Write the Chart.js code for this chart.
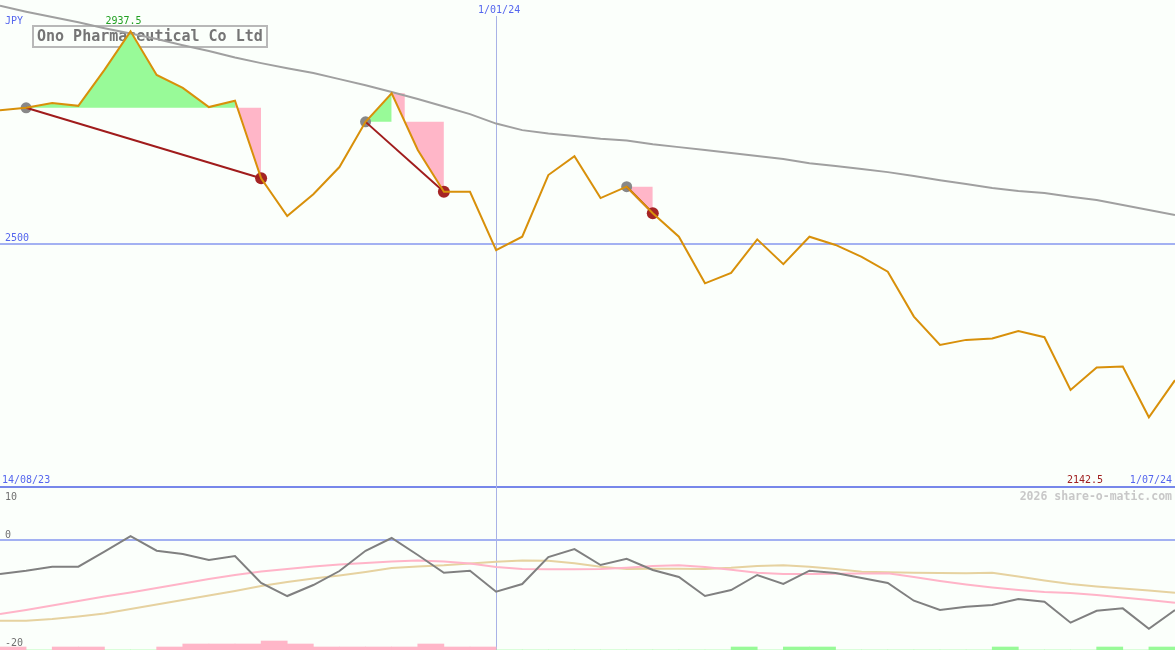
<!DOCTYPE html>
<html>
<head>
<meta charset="utf-8">
<script src="https://cdn.jsdelivr.net/npm/chart.js@4.4.0/dist/chart.umd.min.js"></script>
<style>
  html, body { margin: 0; padding: 0; background: #fbfffb; }
  #wrap { width: 1175px; height: 650px; position: relative; }
</style>
</head>
<body>
<div id="wrap"><canvas id="grafico"></canvas></div>
<script>
// semanas (fechamento semanal)
const semanas = ['21/08/23', '28/08/23', '4/09/23', '11/09/23', '18/09/23', '25/09/23', '2/10/23', '9/10/23',
    '16/10/23', '23/10/23', '30/10/23', '6/11/23', '13/11/23', '20/11/23', '27/11/23', '4/12/23', '11/12/23',
    '18/12/23', '25/12/23', '1/01/24', '8/01/24', '15/01/24', '22/01/24', '29/01/24', '5/02/24', '12/02/24',
    '19/02/24', '26/02/24', '4/03/24', '11/03/24', '18/03/24', '25/03/24', '1/04/24', '8/04/24', '15/04/24',
    '22/04/24', '29/04/24', '6/05/24', '13/05/24', '20/05/24', '27/05/24', '3/06/24', '10/06/24', '17/06/24',
    '24/06/24', '1/07/24'];

const fechamento = [2775, 2780, 2790, 2784, 2858, 2937.5, 2847.5, 2821, 2781.5, 2794.5, 2635, 2557, 2602, 2658,
    2751, 2810, 2693, 2607, 2607, 2487, 2514.5, 2641.5, 2680.5, 2594, 2617.5, 2563, 2514.5, 2418.5, 2440, 2509,
    2458, 2514.5, 2497.5, 2473, 2442.5, 2350, 2291.5, 2302, 2305, 2320, 2307.5, 2199, 2245, 2247, 2142.5, 2219];

const media = [2990, 2978, 2967, 2956, 2944, 2933, 2921.5, 2909, 2897, 2883.5, 2872, 2861.5, 2851.5, 2839,
    2826.5, 2812.5, 2798, 2782.5, 2767, 2747.5, 2734, 2727, 2722, 2716, 2712.5, 2705, 2699, 2693, 2687, 2680.5,
    2674.5, 2666, 2660, 2654, 2647.5, 2639.5, 2631, 2623, 2615, 2608.5, 2604.5, 2597, 2590, 2580, 2569.5, 2559];

// sinais: compra (ponto cinza), virada, venda (ponto vermelho)
const compras = [1, 14, 24];
const viradas = [9, 15, 24];
const vendas = [10, 17, 25];
// topo da area rosa (degrau) em cada sinal
const topoRosa = [null, null, null, null, null, null, null, null, null, 2780, 2780, null, null, null, null,
    2810, 2751, 2751, null, null, null, null, null, null, 2617.5, 2617.5, null, null, null, null, null, null,
    null, null, null, null, null, null, null, null, null, null, null, null, null, null];

// painel de baixo
const oscilador = [-6.42, -5.79, -5.04, -5.04, -2.21, 0.75, -2.02, -2.64, -3.77, -3.02, -8.11, -10.57, -8.49,
    -5.85, -2.02, 0.38, -2.83, -6.17, -5.79, -9.75, -8.30, -3.21, -1.70, -4.72, -3.53, -5.66, -6.98, -10.57,
    -9.43, -6.60, -8.30, -5.79, -6.23, -7.17, -8.11, -11.45, -13.21, -12.58, -12.26, -11.13, -11.64, -15.60,
    -13.34, -12.89, -16.74, -13.21];
const mediaRapida = [-13.96, -13.21, -12.36, -11.51, -10.66, -9.91, -9.06, -8.21, -7.36, -6.60, -5.94, -5.47,
    -5.00, -4.62, -4.34, -4.06, -3.87, -4.06, -4.43, -5.09, -5.47, -5.53, -5.51, -5.47, -5.21, -4.91, -4.77,
    -5.09, -5.60, -6.19, -6.42, -6.42, -6.38, -6.32, -6.28, -6.98, -7.74, -8.40, -8.96, -9.43, -9.81, -10.0,
    -10.38, -10.85, -11.32, -11.83];
const mediaLenta = [-15.23, -15.23, -14.91, -14.43, -13.87, -13.02, -12.17, -11.32, -10.47, -9.62, -8.68,
    -7.92, -7.26, -6.70, -6.04, -5.28, -5.00, -4.77, -4.43, -4.11, -3.87, -3.92, -4.38, -5.04, -5.45, -5.43,
    -5.42, -5.47, -5.25, -4.91, -4.77, -5.04, -5.47, -5.98, -6.09, -6.17, -6.23, -6.26, -6.19, -6.89, -7.64,
    -8.30, -8.77, -9.15, -9.53, -9.94];
// barras por intervalo entre semanas (negativo = rosa, positivo = verde)
const barras = [-1, 0, -1, -1, 0, 0, -1, -2, -2, -2, -3, -2, -1, -1, -1, -1, -2, -1, -1,
    0, 0, 0, 0, 0, 0, 0, 0, 0, 1, 0, 1, 1, 0, 0, 0, 0, 0, 0, 1, 0, 0, 0, 1, 0, 1];

const linhaRef = 2500;
const semanaMarcada = '1/01/24';

const FUNDO = '#fbfffb';
const VERDE = '#98fa98';
const ROSA = '#ffb6c8';
const AZUL = '#a3b1f2';
const AZUL_TEXTO = '#5566ee';
const MONO = '"DejaVu Sans Mono", monospace';

const soNoIntervalo = (arr, ini, fim) => arr.map((v, i) => (i >= ini && i <= fim ? v : null));

const datasets = [
    { label: 'Fechamento', data: fechamento, borderColor: '#d8900a', borderWidth: 2, pointRadius: 0, fill: false },
    { label: 'Media', data: media, borderColor: '#a0a0a0', borderWidth: 2, pointRadius: 0, fill: false },
    { label: 'Osc', data: oscilador, yAxisID: 'y2', borderColor: '#808080', borderWidth: 2, pointRadius: 0, fill: false },
    { label: 'OscRapida', data: mediaRapida, yAxisID: 'y2', borderColor: '#ffb4c8', borderWidth: 2, pointRadius: 0, fill: false },
    { label: 'OscLenta', data: mediaLenta, yAxisID: 'y2', borderColor: '#e6d2a0', borderWidth: 2, pointRadius: 0, fill: false }
];

// linhas vermelhas compra -> venda
compras.forEach((c, k) => {
    const v = vendas[k];
    datasets.push({
        data: fechamento.map((p, i) => (i === c || i === v ? p : null)),
        spanGaps: true, borderColor: '#a01c1c', borderWidth: 2, pointRadius: 0, fill: false
    });
});

// pontos de compra e venda
datasets.push({
    data: fechamento.map((p, i) => (compras.includes(i) ? p : null)),
    showLine: false, pointRadius: 5.5, pointBackgroundColor: '#888888', pointBorderWidth: 0, fill: false
});
datasets.push({
    data: fechamento.map((p, i) => (vendas.includes(i) ? p : null)),
    showLine: false, pointRadius: 6, pointBackgroundColor: '#a52424', pointBorderWidth: 0, fill: false
});

// areas verde e rosa
compras.forEach((c, k) => {
    if (viradas[k] > c) {
        datasets.push({
            data: soNoIntervalo(fechamento, c, viradas[k]),
            borderWidth: 0, pointRadius: 0, backgroundColor: VERDE,
            fill: { target: { value: fechamento[c] } }
        });
    }
    datasets.push({
        data: soNoIntervalo(topoRosa, viradas[k], vendas[k]),
        stepped: 'middle', borderWidth: 0, pointRadius: 0, backgroundColor: ROSA,
        fill: { target: 0 }
    });
});

// barras do painel de baixo
datasets.push({
    type: 'bar', xAxisID: 'x2', yAxisID: 'y3',
    data: barras.map(v => Math.abs(v)),
    backgroundColor: barras.map(v => (v < 0 ? ROSA : VERDE)),
    borderWidth: 0, grouped: false, barPercentage: 1, categoryPercentage: 1
});

function texto(ctx, s, x, y, cor, fonte, alin) {
    ctx.font = fonte;
    ctx.fillStyle = cor;
    ctx.textAlign = alin || 'left';
    ctx.textBaseline = 'alphabetic';
    ctx.fillText(s, x, y);
}

function linhaH(ctx, y, x0, x1, cor, larg) {
    ctx.beginPath();
    ctx.strokeStyle = cor;
    ctx.lineWidth = larg;
    ctx.moveTo(x0, Math.round(y));
    ctx.lineTo(x1, Math.round(y));
    ctx.stroke();
}

const fundoPlugin = {
    id: 'fundo',
    beforeDraw(chart) {
        const ctx = chart.ctx;
        ctx.save();
        ctx.fillStyle = FUNDO;
        ctx.fillRect(0, 0, chart.width, chart.height);
        ctx.restore();
    },
    beforeDatasetsDraw(chart) {
        const { ctx, chartArea, scales } = chart;
        const { x, y, y2 } = scales;
        ctx.save();
        // linhas de referencia
        linhaH(ctx, y.getPixelForValue(linhaRef), 0, chartArea.right, AZUL, 2);
        linhaH(ctx, y2.getPixelForValue(0), 0, chartArea.right, AZUL, 2);
        linhaH(ctx, y2.getPixelForValue(10), 0, chartArea.right, '#7787ea', 2);
        const xm = Math.round(x.getPixelForValue(semanas.indexOf(semanaMarcada))) + 0.5;
        ctx.beginPath();
        ctx.strokeStyle = '#a8b2e6';
        ctx.lineWidth = 1;
        ctx.moveTo(xm, 16);
        ctx.lineTo(xm, chartArea.bottom);
        ctx.stroke();

        // caixa do titulo
        ctx.fillStyle = FUNDO;
        ctx.fillRect(33, 26, 234, 21);
        ctx.strokeStyle = '#b8b8b8';
        ctx.lineWidth = 2;
        ctx.strokeRect(33, 26, 234, 21);
        texto(ctx, 'Ono Pharmaceutical Co Ltd', 37, 41, '#757575', 'bold 15px ' + MONO);
        ctx.restore();
    },
    afterDatasetsDraw(chart) {
        const { ctx, chartArea, scales } = chart;
        const { x, y, y2 } = scales;
        ctx.save();
        const f10 = '10px ' + MONO;
        texto(ctx, 'JPY', 5, 24, AZUL_TEXTO, f10);
        const iMax = fechamento.indexOf(Math.max(...fechamento));
        texto(ctx, String(fechamento[iMax]), x.getPixelForValue(iMax) - 7, y.getPixelForValue(fechamento[iMax]) - 7,
            '#22a022', f10, 'center');
        texto(ctx, semanaMarcada, x.getPixelForValue(semanas.indexOf(semanaMarcada)) + 3, 13, AZUL_TEXTO, f10, 'center');
        texto(ctx, String(linhaRef), 5, y.getPixelForValue(linhaRef) - 3, AZUL_TEXTO, f10);
        const yDiv = y2.getPixelForValue(10);
        texto(ctx, '14/08/23', 2, yDiv - 4, AZUL_TEXTO, f10);
        texto(ctx, semanas[semanas.length - 1], chartArea.right - 3, yDiv - 4, AZUL_TEXTO, f10, 'right');
        texto(ctx, String(Math.min(...fechamento)), 1103, yDiv - 4, '#a02020', f10, 'right');
        texto(ctx, '2026 share-o-matic.com', chartArea.right - 3, yDiv + 13, '#c8c8c8', 'bold 11.5px ' + MONO, 'right');
        texto(ctx, '10', 5, yDiv + 13, '#707070', f10);
        texto(ctx, '0', 5, y2.getPixelForValue(0) - 2, '#707070', f10);
        texto(ctx, '-20', 5, y2.getPixelForValue(-20), '#707070', f10);
        ctx.restore();
    }
};

const ctx = document.getElementById('grafico').getContext('2d');
const grafico = new Chart(ctx, {
    type: 'line',
    data: { labels: semanas, datasets: datasets },
    options: {
        responsive: true,
        maintainAspectRatio: false,
        animation: false,
        layout: { padding: 0, autoPadding: false },
        elements: { line: { tension: 0 } },
        plugins: { legend: { display: false }, tooltip: { enabled: false } },
        scales: {
            x: { type: 'category', display: false, offset: false },
            x2: { type: 'category', labels: semanas.slice(1), display: false, offset: true },
            y: { display: false, min: 1663.3, max: 3002 },
            y2: { display: false, min: -20.75, max: 101.89 },
            y3: { display: false, min: 0, max: 216.67 }
        }
    },
    plugins: [fundoPlugin]
});
</script>
</body>
</html>
